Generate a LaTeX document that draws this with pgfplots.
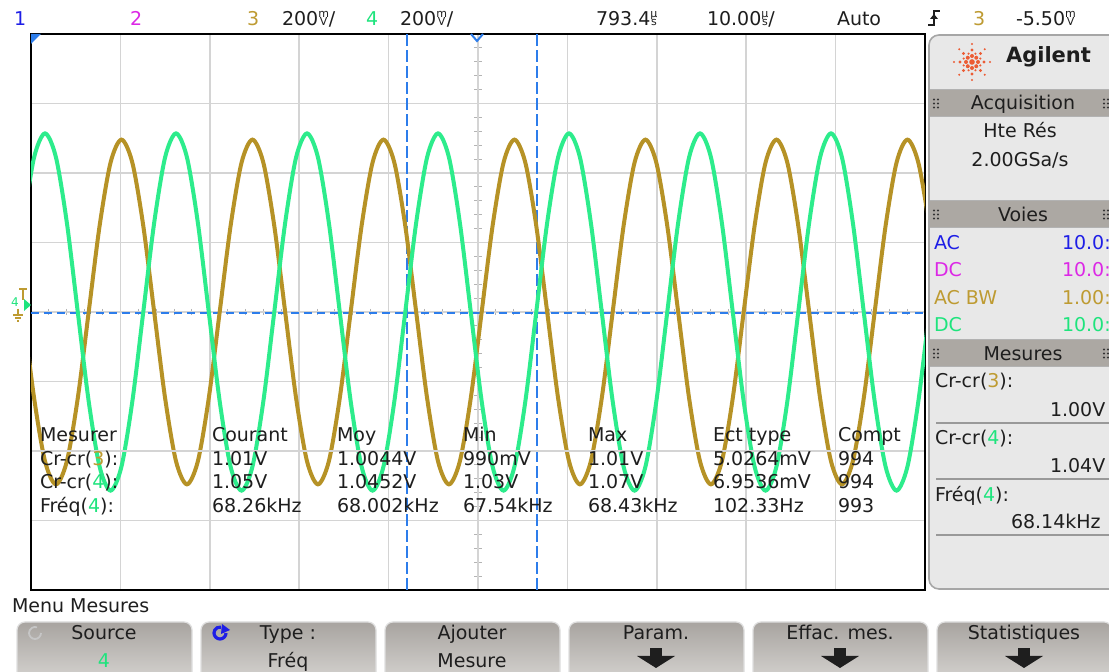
\documentclass[border=0pt]{standalone}
\usepackage{pgfplots}
\usepackage{pgfplotstable}
\pgfplotsset{compat=1.18}
\usepackage{fontspec}
\setmainfont{DejaVu Sans}

\definecolor{chone}{RGB}{30,30,230}
\definecolor{chtwo}{RGB}{220,40,230}
\definecolor{chthree}{RGB}{190,155,50}
\definecolor{chfour}{RGB}{30,228,125}
\definecolor{trthree}{RGB}{182,146,38}
\definecolor{trfour}{RGB}{45,236,140}
\definecolor{cursor}{RGB}{45,125,235}
\definecolor{gridc}{RGB}{212,212,212}
\definecolor{panel}{RGB}{232,232,232}
\definecolor{bar}{RGB}{172,168,163}
\definecolor{btntop}{RGB}{168,164,160}
\definecolor{btnbot}{RGB}{220,218,215}
\definecolor{logo}{RGB}{236,92,52}
\definecolor{txt}{RGB}{30,30,30}

% small stacked unit, as the scope prints it
\newcommand{\stk}[2]{{\fontsize{5.5}{5.5}\selectfont\begin{tabular}[b]{@{}c@{}}#1\\[-1.2pt]#2\end{tabular}}}

% x: time in steps of 15 degrees of the 68 kHz cycle, y: divisions
\pgfplotstableread[row sep=\\]{
k v\\
-4 1.285\\ -2 2.226\\
0 2.57\\ 2 2.226\\ 4 1.285\\ 6 0\\ 8 -1.285\\ 10 -2.226\\ 12 -2.57\\ 14 -2.226\\ 16 -1.285\\ 18 0\\ 20 1.285\\ 22 2.226\\
24 2.57\\ 26 2.226\\ 28 1.285\\ 30 0\\ 32 -1.285\\ 34 -2.226\\ 36 -2.57\\ 38 -2.226\\ 40 -1.285\\ 42 0\\ 44 1.285\\ 46 2.226\\
48 2.57\\ 50 2.226\\ 52 1.285\\ 54 0\\ 56 -1.285\\ 58 -2.226\\ 60 -2.57\\ 62 -2.226\\ 64 -1.285\\ 66 0\\ 68 1.285\\ 70 2.226\\
72 2.57\\ 74 2.226\\ 76 1.285\\ 78 0\\ 80 -1.285\\ 82 -2.226\\ 84 -2.57\\ 86 -2.226\\ 88 -1.285\\ 90 0\\ 92 1.285\\ 94 2.226\\
96 2.57\\ 98 2.226\\ 100 1.285\\ 102 0\\ 104 -1.285\\ 106 -2.226\\ 108 -2.57\\ 110 -2.226\\ 112 -1.285\\ 114 0\\ 116 1.285\\ 118 2.226\\
120 2.57\\ 122 2.226\\ 124 1.285\\ 126 0\\ 128 -1.285\\ 130 -2.226\\ 132 -2.57\\ 134 -2.226\\ 136 -1.285\\ 138 0\\ 140 1.285\\ 142 2.226\\
144 2.57\\ 146 2.226\\ 148 1.285\\ 150 0\\ 152 -1.285\\ 154 -2.226\\ 156 -2.57\\ 158 -2.226\\ 160 -1.285\\ 162 0\\ 164 1.285\\
}\chfourdata

\pgfplotstableread[row sep=\\]{
k v\\
-4 0\\ -2 -1.24\\
0 -2.148\\ 2 -2.48\\ 4 -2.148\\ 6 -1.24\\ 8 0\\ 10 1.24\\ 12 2.148\\ 14 2.48\\ 16 2.148\\ 18 1.24\\ 20 0\\ 22 -1.24\\
24 -2.148\\ 26 -2.48\\ 28 -2.148\\ 30 -1.24\\ 32 0\\ 34 1.24\\ 36 2.148\\ 38 2.48\\ 40 2.148\\ 42 1.24\\ 44 0\\ 46 -1.24\\
48 -2.148\\ 50 -2.48\\ 52 -2.148\\ 54 -1.24\\ 56 0\\ 58 1.24\\ 60 2.148\\ 62 2.48\\ 64 2.148\\ 66 1.24\\ 68 0\\ 70 -1.24\\
72 -2.148\\ 74 -2.48\\ 76 -2.148\\ 78 -1.24\\ 80 0\\ 82 1.24\\ 84 2.148\\ 86 2.48\\ 88 2.148\\ 90 1.24\\ 92 0\\ 94 -1.24\\
96 -2.148\\ 98 -2.48\\ 100 -2.148\\ 102 -1.24\\ 104 0\\ 106 1.24\\ 108 2.148\\ 110 2.48\\ 112 2.148\\ 114 1.24\\ 116 0\\ 118 -1.24\\
120 -2.148\\ 122 -2.48\\ 124 -2.148\\ 126 -1.24\\ 128 0\\ 130 1.24\\ 132 2.148\\ 134 2.48\\ 136 2.148\\ 138 1.24\\ 140 0\\ 142 -1.24\\
144 -2.148\\ 146 -2.48\\ 148 -2.148\\ 150 -1.24\\ 152 0\\ 154 1.24\\ 156 2.148\\ 158 2.48\\ 160 2.148\\ 162 1.24\\ 164 0\\
}\chthreedata

\begin{document}
\begin{tikzpicture}[every node/.style={inner sep=0pt, outer sep=0pt, font=\fontsize{9.5}{11}\selectfont, text=txt}]
\useasboundingbox (0,0) rectangle (554.5pt,336pt);
\fill[white] (0,0) rectangle (554.5pt,336pt);

% fine ticks on the centre lines (pixel coordinates)
\begin{scope}[x=0.5pt,y=-0.5pt,shift={(0pt,336pt)}]
\foreach \i in {1,...,49} \draw[gridc!85!black, line width=0.5pt] ({31+\i*17.88},309) -- ({31+\i*17.88},315);
\foreach \i in {1,...,39} \draw[gridc!85!black, line width=0.5pt] (474,{34+\i*13.9}) -- (482,{34+\i*13.9});
\end{scope}

\begin{axis}[
  at={(15.5pt,41pt)}, anchor=south west, scale only axis,
  width=447pt, height=278pt,
  xmin=-2.57, xmax=161.22, ymin=-4, ymax=4,
  xtick={13.81,30.19,46.57,62.95,79.33,95.70,112.08,128.46,144.84},
  ytick={-3,-2,-1,0,1,2,3},
  xticklabels={}, yticklabels={},
  major tick length=0pt,
  grid=major, major grid style={gridc, line width=0.8pt},
  axis line style={black, line width=1pt},
]
\draw[cursor, line width=0.9pt, dash pattern=on 4pt off 2.5pt] (axis cs:-2.57,-0.014) -- (axis cs:161.22,-0.014);
\draw[cursor, line width=0.9pt, dash pattern=on 6pt off 2pt] (axis cs:66.32,-4) -- (axis cs:66.32,4);
\draw[cursor, line width=0.9pt, dash pattern=on 6pt off 2pt] (axis cs:90.13,-4) -- (axis cs:90.13,4);
\addplot[trthree, line width=2pt, smooth] table[x=k, y=v] {\chthreedata};
\addplot[trfour, line width=2pt, smooth] table[x=k, y=v] {\chfourdata};
\end{axis}

\begin{scope}[x=0.5pt,y=-0.5pt,shift={(0pt,336pt)}]
% markers on the frame
\fill[cursor] (31,34) -- (41,34) -- (31,44) -- cycle;
\draw[cursor, line width=1pt] (471,34) -- (477,41) -- (483,34);
\draw[chthree, line width=0.8pt] (19,289) -- (27,289) (23,289) -- (23,300);
\fill[chfour] (24,299) -- (31,305) -- (24,311) -- cycle;
\node[anchor=base west, font=\fontsize{6}{6}\selectfont, text=chfour] at (11,307) {4};
\draw[chthree, line width=0.7pt] (18,309) -- (18,315) (13,315) -- (23,315) (15,318) -- (21,318) (17,321) -- (19,321);

% top status line
\node[anchor=base west, text=chone] at (14,26) {1};
\node[anchor=base west, text=chtwo] at (130,26) {2};
\node[anchor=base west, text=chthree] at (247,26) {3};
\node[anchor=base west] at (282,26) {200\stk{m}{V}/};
\node[anchor=base west, text=chfour] at (366,26) {4};
\node[anchor=base west] at (400,26) {200\stk{m}{V}/};
\node[anchor=base west] at (596,26) {793.4\stk{µ}{s}};
\node[anchor=base west] at (707,26) {10.00\stk{µ}{s}/};
\node[anchor=base west] at (837,26) {Auto};
\draw[txt, line width=0.8pt] (928,25) -- (934,25) -- (934,11) -- (940,11);
\fill[txt] (930,19) -- (938,19) -- (934,14) -- cycle;
\node[anchor=base west, text=chthree] at (973,26) {3};
\node[anchor=base west] at (1016,26) {-5.50\stk{m}{V}};

% measurement table over the traces
\draw[gridc, line width=0.8pt] (33,451) -- (905,451);
\node[anchor=base west] at (40,442) {Mesurer};
\node[anchor=base west] at (40,466) {Cr-cr(\textcolor{chthree}{3}):};
\node[anchor=base west] at (40,489) {Cr-cr(\textcolor{chfour}{4}):};
\node[anchor=base west] at (40,513) {Fréq(\textcolor{chfour}{4}):};
\node[anchor=base west] at (212,442) {Courant};
\node[anchor=base west] at (212,466) {1.01V};
\node[anchor=base west] at (212,489) {1.05V};
\node[anchor=base west] at (212,513) {68.26kHz};
\node[anchor=base west] at (337,442) {Moy};
\node[anchor=base west] at (337,466) {1.0044V};
\node[anchor=base west] at (337,489) {1.0452V};
\node[anchor=base west] at (337,513) {68.002kHz};
\node[anchor=base west] at (463,442) {Min};
\node[anchor=base west] at (463,466) {990mV};
\node[anchor=base west] at (463,489) {1.03V};
\node[anchor=base west] at (463,513) {67.54kHz};
\node[anchor=base west] at (588,442) {Max};
\node[anchor=base west] at (588,466) {1.01V};
\node[anchor=base west] at (588,489) {1.07V};
\node[anchor=base west] at (588,513) {68.43kHz};
\node[anchor=base west] at (713,442) {Ect type};
\node[anchor=base west] at (713,466) {5.0264mV};
\node[anchor=base west] at (713,489) {6.9536mV};
\node[anchor=base west] at (713,513) {102.33Hz};
\node[anchor=base west] at (838,442) {Compt};
\node[anchor=base west] at (838,466) {994};
\node[anchor=base west] at (838,489) {994};
\node[anchor=base west] at (838,513) {993};

% right panel
\filldraw[fill=panel, draw=gray!70, line width=0.8pt, rounded corners=5pt] (929,35) rectangle (1130,589);
\fill[logo] (972,62) circle (1.4pt);
\foreach \a in {0,45,...,315} {
  \fill[logo] (972,62) ++(\a:6) circle (1pt);
  \fill[logo] (972,62) ++(\a:12) circle (0.8pt);
  \fill[logo] (972,62) ++(\a:18) circle (0.55pt);
}
\foreach \a in {22.5,67.5,...,337.5} \fill[logo] (972,62) ++(\a:9) circle (0.6pt);
\node[anchor=base west, font=\fontsize{10.5}{12}\selectfont\bfseries] at (1006,63) {Agilent};
\foreach \ya/\yb/\yt/\lab in {90/117/110/Acquisition, 201/228/222/Voies, 340/367/361/Mesures} {
  \fill[bar] (929.5,\ya) rectangle (1112,\yb);
  \draw[gray!60, line width=0.5pt] (929.5,\ya) -- (1112,\ya) (929.5,\yb) -- (1112,\yb);
  \node[anchor=base] at (1023,\yt) {\lab};
  \foreach \dx in {0,4} \foreach \dy in {-4,0,4} {
    \fill[gray!40!black] ({934+\dx},{(\ya+\yb)/2+\dy}) circle (0.6pt);
    \fill[gray!40!black] ({1104+\dx},{(\ya+\yb)/2+\dy}) circle (0.6pt);
  }
}
\node[anchor=base] at (1020,138) {Hte Rés};
\node[anchor=base] at (1020,167) {2.00GSa/s};
\node[anchor=base west, text=chone] at (934,250) {AC};
\node[anchor=base west, text=chone] at (1062,250) {10.0:1};
\node[anchor=base west, text=chtwo] at (934,277) {DC};
\node[anchor=base west, text=chtwo] at (1062,277) {10.0:1};
\node[anchor=base west, text=chthree] at (934,305) {AC BW};
\node[anchor=base west, text=chthree] at (1062,305) {1.00:1};
\node[anchor=base west, text=chfour] at (934,332) {DC};
\node[anchor=base west, text=chfour] at (1062,332) {10.0:1};
\node[anchor=base west] at (935,388) {Cr-cr(\textcolor{chthree}{3}):};
\node[anchor=base west] at (1050,417) {1.00V};
\draw[gray!80, line width=0.7pt] (936,423) -- (1112,423);
\node[anchor=base west] at (935,445) {Cr-cr(\textcolor{chfour}{4}):};
\node[anchor=base west] at (1050,473) {1.04V};
\draw[gray!80, line width=0.7pt] (936,479) -- (1112,479);
\node[anchor=base west] at (935,502) {Fréq(\textcolor{chfour}{4}):};
\node[anchor=base west] at (1011,529) {68.14kHz};
\draw[gray!80, line width=0.7pt] (936,535) -- (1112,535);

% soft-key menu
\node[anchor=base west] at (12,613) {Menu Mesures};
\foreach \xa/\xb in {17/192, 201/376, 385/560, 569/744, 753/928, 937/1112} {
  \shade[top color=btntop, bottom color=btnbot, rounded corners=4pt] (\xa,622) rectangle (\xb,690);
  \draw[white!75!gray, line width=0.6pt, rounded corners=4pt] (\xa,622) rectangle (\xb,690);
}
\node[anchor=base] at (104,640) {Source};
\node[anchor=base, text=chfour] at (104,668) {4};
\draw[gray!45, line width=0.9pt] (41,633) arc[start angle=0, end angle=290, radius=6];
\node[anchor=base] at (288,640) {Type :};
\node[anchor=base] at (288,668) {Fréq};
\draw[chone, line width=1.6pt] (226,633) arc[start angle=0, end angle=280, radius=6];
\fill[chone] (222,624) -- (230,630) -- (221,634) -- cycle;
\node[anchor=base] at (472,640) {Ajouter};
\node[anchor=base] at (472,668) {Mesure};
\node[anchor=base] at (656,640) {Param.};
\node[anchor=base] at (840,640) {Effac. mes.};
\node[anchor=base] at (1024,640) {Statistiques};
\foreach \xc in {656,840,1024} {
  \fill[txt] ({\xc-6},648) rectangle ({\xc+6},657);
  \fill[txt] ({\xc-19},656) -- ({\xc+19},656) -- (\xc,668) -- cycle;
}
\end{scope}
\end{tikzpicture}
\end{document}
